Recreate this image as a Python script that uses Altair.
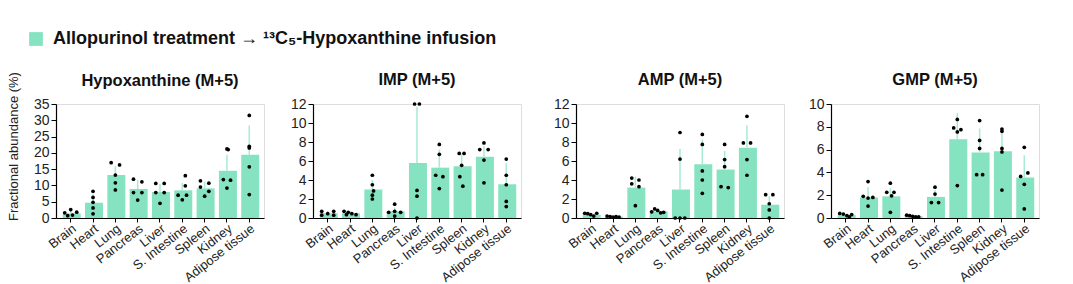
import altair as alt
import pandas as pd

categories = ["Brain", "Heart", "Lung", "Pancreas", "Liver",
              "S. Intestine", "Spleen", "Kidney", "Adipose tissue"]

legend_label = "Allopurinol treatment \u2192 \u00b9\u00b3C\u2085-Hypoxanthine infusion"

# ---- Hypoxanthine (M+5)
hypo_mean = [1.4, 4.7, 13.2, 8.9, 8.0, 8.5, 9.1, 14.5, 19.4]
hypo_top = [2.3, 7.2, 16.0, 11.7, 10.5, 10.7, 11.2, 19.4, 28.4]
hypo_pts = [[2.6, 1.6, 1.8, 0.9, 0.7], [8.2, 6.3, 4.8, 3.1, 1.3],
            [17.0, 16.3, 13.2, 10.8, 8.6], [11.9, 11.1, 7.8, 7.8, 5.5],
            [10.6, 10.6, 7.8, 7.8, 4.5], [13.0, 9.9, 7.0, 7.0, 5.6],
            [11.4, 10.7, 9.5, 8.2, 6.7], [21.2, 21.0, 11.8, 11.6, 9.2],
            [31.5, 22.0, 21.5, 15.7, 7.2]]
hypo_jit = [[0, -1, 1, 0.3, -0.5], [0, 0, 0, 0, 0], [-0.7, 0.7, 0, 0, 0],
            [-0.7, 0.7, -0.7, 0.7, 0], [-0.7, 0.7, -0.7, 0.7, 0],
            [0.5, 0.5, -0.7, 0.7, 0], [-0.7, 0.7, -0.7, 0.7, 0],
            [0, 0.2, -0.6, 0.6, 0], [0, 0, 0, 0, 0]]

# ---- IMP (M+5)
imp_mean = [0.5, 0.5, 3.0, 0.7, 5.8, 5.3, 5.45, 6.45, 3.55]
imp_top = [0.75, 0.7, 4.0, 1.1, 11.7, 7.2, 6.7, 7.55, 5.75]
imp_pts = [[0.7, 0.45, 0.7, 0.3, 0.3], [0.7, 0.6, 0.45, 0.35, 0.35],
           [4.5, 3.5, 2.85, 2.4, 2.0], [1.45, 0.6, 0.7, 0.6, 0.2],
           [12.0, 12.0, 2.9, 2.3, 0.0], [7.75, 6.7, 4.5, 4.35, 3.1],
           [6.8, 6.8, 5.55, 4.35, 3.35], [7.9, 7.2, 7.2, 6.1, 3.7],
           [6.2, 4.5, 3.5, 1.75, 1.2]]
imp_jit = [[-1, 0, 1, -1, 1], [-1, -0.3, 0.3, 1, -0.6], [0, 0, 0.2, 0, 0],
           [0, -1, 0, 1, 0], [-0.4, 0.4, 0, 0, 0], [0, 0, -0.6, 0.6, 0],
           [-0.4, 0.4, 0, -0.3, 0.2], [0, -0.7, 0.7, 0, 0], [0, 0, 0, 0, 0]]

# ---- AMP (M+5)
amp_mean = [0.35, 0.15, 3.2, 0.7, 3.0, 5.65, 5.1, 7.4, 1.4]
amp_top = [0.5, 0.2, 4.35, 0.85, 7.3, 8.25, 7.05, 9.75, 2.3]
amp_pts = [[0.5, 0.45, 0.35, 0.2, 0.5], [0.2, 0.15, 0.1, 0.15, 0.1],
           [4.2, 4.0, 3.6, 3.3, 1.3], [0.95, 0.8, 0.6, 0.65, 0.55],
           [9.0, 6.2, 0.0, 0.0, 0.0], [8.8, 7.75, 4.95, 4.0, 2.6],
           [7.75, 6.15, 5.4, 3.3, 3.2], [10.7, 7.9, 7.9, 6.15, 4.5],
           [2.45, 2.45, 1.5, 0.85, 0.0]]
amp_jit = [[-1, -0.5, 0, 0.5, 1], [-1, -0.5, 0, 0.5, 1], [-0.6, 0.6, -0.6, 0.6, 0],
           [-0.5, 0, 1, -1, 0.5], [0, 0, -0.8, 0, 0.8], [0, 0, 0, 0, 0],
           [0, 0, 0, -0.6, 0.6], [0, -0.6, 0.6, 0, 0], [-0.6, 0.6, 0, 0, 0]]

# ---- GMP (M+5)
gmp_mean = [0.25, 1.8, 1.9, 0.15, 1.85, 6.9, 5.75, 5.85, 3.55]
gmp_top = [0.35, 2.7, 2.6, 0.25, 2.45, 9.2, 7.85, 7.6, 5.5]
gmp_pts = [[0.4, 0.35, 0.2, 0.1, 0.3], [3.2, 1.9, 1.8, 1.75, 1.05],
           [3.05, 2.25, 2.25, 1.95, 0.5], [0.25, 0.2, 0.15, 0.1, 0.1],
           [2.7, 2.1, 1.35, 1.35], [8.65, 7.9, 7.75, 7.55, 2.85],
           [8.55, 6.8, 6.1, 3.8, 3.8], [7.8, 7.6, 6.1, 5.8, 2.45],
           [6.2, 3.95, 3.65, 2.95, 0.8]]
gmp_jit = [[-1, -0.4, 0.2, 0.6, 1], [0, -0.8, 0.8, 0, 0], [0, -0.6, 0.6, 0.2, 0],
           [-1, -0.5, 0, 0.5, 1], [0, 0, -0.6, 0.6], [0, -0.6, 0.6, 0, 0],
           [0, 0, 0, -0.5, 0.5], [0, 0, 0, 0, 0], [0, 0.6, -0.6, 0, 0]]

panels = [
    ("Hypoxanthine (M+5)", hypo_mean, hypo_top, hypo_pts, hypo_jit, 35, 5, "Fractional abundance (%)"),
    ("IMP (M+5)", imp_mean, imp_top, imp_pts, imp_jit, 12, 2, None),
    ("AMP (M+5)", amp_mean, amp_top, amp_pts, amp_jit, 12, 2, None),
    ("GMP (M+5)", gmp_mean, gmp_top, gmp_pts, gmp_jit, 10, 2, None),
]

BAR = "#86E3C1"
ERR = "#A6EBD2"
FONT = "Liberation Sans"
W = 208
H = 114
P_IN, P_OUT = 0.28, 0.3
STEP = W / (len(categories) - P_IN + 2 * P_OUT)
BW = STEP * (1 - P_IN)


def make_panel(idx, title, means, tops, pts, jits, ymax, step, ytitle):
    bars = pd.DataFrame({"tissue": categories, "mean": means, "top": tops,
                         "group": [legend_label] * len(categories)})
    rows = []
    for cat, vals, js in zip(categories, pts, jits):
        for v, j in zip(vals, js):
            rows.append({"tissue": cat, "value": v, "jit": j})
    points = pd.DataFrame(rows)

    xaxis = alt.Axis(title=None, labelAngle=-38, labelFontSize=13,
                     labelAlign="right", labelBaseline="top",
                     labelFont=FONT, tickSize=4, domainColor="black",
                     tickColor="black", labelColor="#222",
                     labelPadding=0, domainWidth=1.2)
    xscale = alt.Scale(paddingInner=P_IN, paddingOuter=P_OUT)
    tick_vals = list(range(0, ymax + 1, step))
    axis_kw = dict(values=tick_vals, tickCount=len(tick_vals), grid=False,
                   labelFontSize=14, labelFont=FONT, domainColor="black",
                   tickColor="black", tickSize=5, labelColor="#222",
                   domainWidth=1.2, labelPadding=2, labelOverlap=False,
                   labelFlush=False, labelBaseline="middle",
                   titleFont=FONT, titleFontSize=13, titleFontWeight="normal",
                   titleColor="#222", titlePadding=13)
    if ytitle:
        axis_kw["title"] = ytitle
        axis_kw["titleY"] = 42
    else:
        axis_kw["title"] = None
    yaxis = alt.Axis(**axis_kw)
    yscale = alt.Scale(domain=[0, ymax], nice=False)

    legend = None
    if idx == 0:
        legend = alt.Legend(title=None, orient="none", legendX=-29, legendY=-74,
                            symbolType="square", symbolSize=190,
                            symbolStrokeWidth=0, labelFontSize=18,
                            labelFontWeight="bold", labelFont=FONT,
                            labelColor="#111", labelLimit=900, labelOffset=8)

    bar = alt.Chart(bars).mark_bar().encode(
        x=alt.X("tissue:N", sort=categories, scale=xscale, axis=xaxis),
        y=alt.Y("mean:Q", scale=yscale, axis=yaxis),
        color=alt.Color("group:N", scale=alt.Scale(range=[BAR]), legend=legend),
    )
    err = alt.Chart(bars).mark_rule(color=ERR, strokeWidth=1.5).encode(
        x=alt.X("tissue:N", sort=categories, scale=xscale, axis=xaxis),
        y=alt.Y("mean:Q", scale=yscale, axis=yaxis),
        y2="top:Q",
    )
    dots = alt.Chart(points).mark_circle(color="black", size=14, opacity=1).encode(
        x=alt.X("tissue:N", sort=categories, scale=xscale, axis=xaxis),
        xOffset=alt.XOffset("jit:Q", scale=alt.Scale(domain=[-1, 1],
                                                     range=[BW / 2 - 6, BW / 2 + 6])),
        y=alt.Y("value:Q", scale=yscale, axis=yaxis),
    )
    tkw = dict(fontSize=16.5, font=FONT, fontWeight="bold", color="#111",
               offset=9, frame="group")
    if ytitle:
        tkw["dy"] = 27
    return alt.layer(bar, err, dots).properties(
        width=W, height=H, title=alt.TitleParams(title, **tkw),
    )


charts = [make_panel(i, *p) for i, p in enumerate(panels)]
left = alt.hconcat(charts[0], charts[1], spacing=24)
right = alt.hconcat(charts[2], charts[3], spacing=22)
chart = alt.hconcat(left, right, spacing=30).properties(
    padding={"left": 6, "top": 30, "right": 5, "bottom": 0}
).configure_view(stroke="transparent", strokeWidth=0).configure(background="white")

chart.save("out.html", embed_options={"renderer": "svg", "actions": False})
